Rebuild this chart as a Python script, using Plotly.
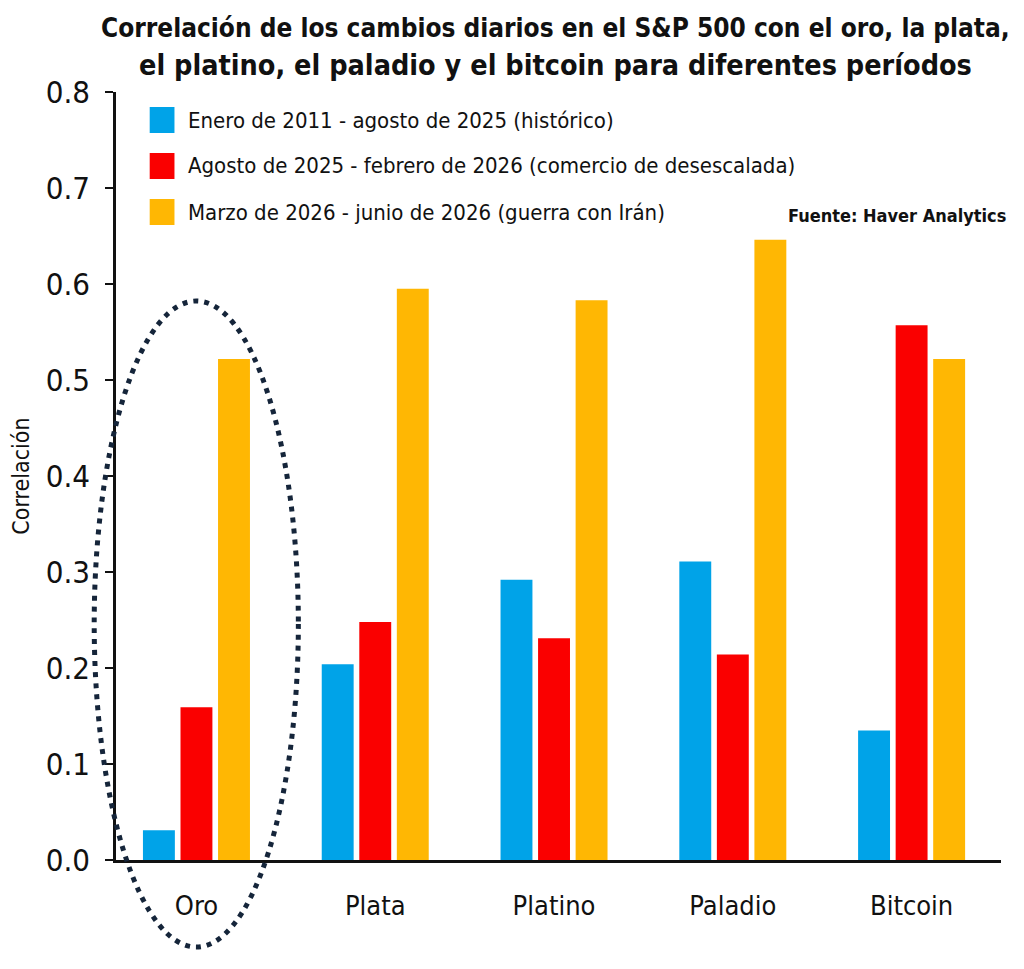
import plotly.graph_objects as go

categories = ["Oro", "Plata", "Platino", "Paladio", "Bitcoin"]
series_names = [
    "Enero de 2011 - agosto de 2025 (histórico)",
    "Agosto de 2025 - febrero de 2026 (comercio de desescalada)",
    "Marzo de 2026 - junio de 2026 (guerra con Irán)",
]
title_lines = [
    "Correlación de los cambios diarios en el S&P 500 con el oro, la plata,",
    "el platino, el paladio y el bitcoin para diferentes períodos",
]
historico = [0.031, 0.204, 0.292, 0.311, 0.135]
desescalada = [0.159, 0.248, 0.231, 0.214, 0.557]
guerra = [0.522, 0.595, 0.583, 0.646, 0.522]
y_ticks = [0.0, 0.1, 0.2, 0.3, 0.4, 0.5, 0.6, 0.7, 0.8]
colors = ["#00A3E8", "#FA0000", "#FFB703"]

# page body has an 8px margin -> figure is 1008x953 placed at (8, 8)
OFF = 8
W, H = 1024 - 2 * OFF, 969 - 2 * OFF
L, R, T, B = 108, 1001, 92, 860  # plot area in window pixels
FONT = "DejaVu Sans Condensed, DejaVu Sans, sans-serif"

def px(x):
    return (x - L) / (R - L)

def py(y):
    return (B - y) / (B - T)

fig = go.Figure()
for name, vals, col in zip(series_names, [historico, desescalada, guerra], colors):
    fig.add_trace(go.Bar(x=categories, y=vals, name=name, marker_color=col,
                         marker_line_width=0, showlegend=False))

# title (two centred lines)
for line, cy, sz in zip(title_lines, [28, 66], [26, 28.5]):
    fig.add_annotation(xref="paper", yref="paper", x=px(551), y=py(cy),
                       xanchor="center", yanchor="middle", text=f"<b>{line}</b>",
                       showarrow=False, font=dict(family=FONT, size=sz, color="#111111"))

# manual legend (large square swatches)
row_y = [120, 166, 212]
for name, col, ry in zip(series_names, colors, row_y):
    fig.add_shape(type="rect", xref="paper", yref="paper",
                  x0=px(142), x1=px(167), y0=py(ry + 13), y1=py(ry - 13),
                  fillcolor=col, line_width=0)
    fig.add_annotation(xref="paper", yref="paper", x=px(179), y=py(ry),
                       xanchor="left", yanchor="middle", text=name, showarrow=False,
                       font=dict(family=FONT, size=22, color="#111111"))

fig.add_annotation(xref="paper", yref="paper", x=px(1008), y=py(215),
                   xanchor="right", yanchor="middle", text="<b>Fuente: Haver Analytics</b>",
                   showarrow=False, font=dict(family=FONT, size=18, color="#111111"))

# dotted highlight ellipse around "Oro"
fig.add_shape(type="circle", xref="paper", yref="paper",
              x0=px(86), x1=px(292), y0=py(947), y1=py(301),
              line=dict(color="#15253A", width=5, dash="5px,6px"),
              fillcolor="rgba(0,0,0,0)", layer="above")

fig.update_layout(
    width=W, height=H,
    margin=dict(l=L - OFF, r=W + OFF - R, t=T - OFF, b=H + OFF - B),
    paper_bgcolor="white", plot_bgcolor="white",
    barmode="group", bargap=0.37, bargroupgap=0.15,
    font=dict(family=FONT, color="#111111"),
    xaxis=dict(type="category", autorange=False, range=[-0.45, 4.5]),
)
fig.update_xaxes(showline=True, linecolor="#111111", linewidth=3,
                 ticks="", showgrid=False, zeroline=False,
                 tickfont=dict(family=FONT, size=27, color="#111111"),
                 ticklabelstandoff=20)
fig.update_yaxes(range=[0, 0.8], autorange=False, tickvals=y_ticks,
                 ticktext=[f"{v:.1f}" for v in y_ticks],
                 showline=True, linecolor="#111111", linewidth=2.5,
                 ticks="outside", ticklen=8, tickwidth=2, tickcolor="#111111",
                 showgrid=False, zeroline=False,
                 tickfont=dict(family=FONT, size=31, color="#111111"),
                 ticklabelstandoff=9,
                 title=dict(text="Correlación", standoff=10,
                            font=dict(family=FONT, size=23, color="#111111")))

fig.write_html("out.html")
